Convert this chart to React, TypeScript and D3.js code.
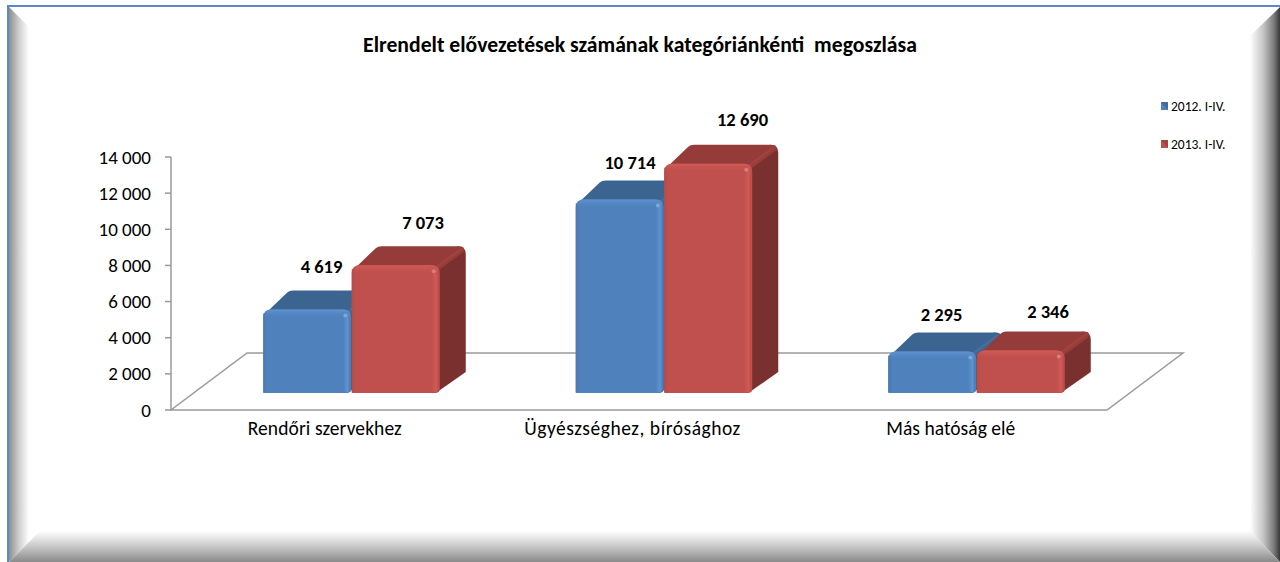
import React from "react";
import * as d3 from "d3";

const categories = ["Rendőri szervekhez", "Ügyészséghez, bírósághoz", "Más hatóság elé"];
const seriesNames = ["2012. I-IV.", "2013. I-IV."];
const values2012 = [4619, 10714, 2295];
const values2013 = [7073, 12690, 2346];
const tickValues = [0, 2000, 4000, 6000, 8000, 10000, 12000, 14000];
const title = "Elrendelt elővezetések számának kategóriánkénti  megoszlása";

// hand-placed label offsets seen in the picture (layout, not data)
const labelOffsets = [
  [[14, -37], [27, -36]],
  [[10, -30], [34, -38]],
  [[9, -31], [27, -33]],
];
const categoryLabelDx = [-27, -32, -26];
const categoryLabelWidths = [154, 216, 129];

const W = 1280, H = 562;
const FONT = "Carlito, Lato, 'Open Sans', sans-serif";
const fmt = d3.formatLocale({ decimal: ",", thousands: " ", grouping: [3], currency: ["", ""] }).format(",d");

const y = d3.scaleLinear().domain([0, 14000]).range([410, 157]);
const x0 = d3.scaleBand<string>().domain(categories).range([195.5, 1133]);
const x1 = d3.scaleBand<string>().domain(seriesNames).range([-88.5, 88.5]);
const BASE = 393;
const DX = 26, DY = -19;
const FLOOR = { x0: 171, x1: 1107, y0: 410, dx: 76, dy: -57 };

const palettes = [
  { id: "b", front: "#4f81bd", light: "#5f93d2", dark: "#4a79b0", top: "#3c6491", side: "#2f5177", ridge: "#4a76a8" },
  { id: "r", front: "#c0504d", light: "#d25a56", dark: "#b64b48", top: "#953c3a", side: "#7a302e", ridge: "#a84744" },
];

function Bar({ x, w, v, p }: { x: number; w: number; v: number; p: (typeof palettes)[number] }) {
  const topY = BASE - (y(0) - y(v));
  const r = 8;
  const side = `M${x + w - 4},${BASE}
    L${x + w + DX},${BASE + DY - 2}
    L${x + w + DX},${topY + DY + r}
    Q${x + w + DX},${topY + DY} ${x + w + DX - r},${topY + DY}
    L${x + w - 8},${topY} Z`;
  const top = `M${x + 1},${topY + 5}
    L${x + DX - 2},${topY + DY + 2}
    Q${x + DX},${topY + DY} ${x + DX + 4},${topY + DY}
    L${x + w + DX - r},${topY + DY}
    Q${x + w + DX},${topY + DY} ${x + w + DX - 3},${topY + DY + 3}
    L${x + w - 4},${topY + 4}
    L${x + w - 6},${topY + 2} L${x + 8},${topY + 2} Z`;
  return (
    <g>
      <path d={side} fill={p.side} />
      <path d={top} fill={p.top} />
      <path
        d={`M${x + w - 4},${topY + 4} L${x + w + DX - 4},${topY + DY + 4}`}
        stroke={p.ridge}
        strokeWidth={5}
        strokeLinecap="round"
        opacity={0.6}
      />
      <path
        d={`M${x},${BASE} L${x},${topY + r} Q${x},${topY} ${x + r},${topY} L${x + w - r},${topY} Q${x + w},${topY} ${x + w},${topY + r} L${x + w},${BASE - 4} Q${x + w},${BASE} ${x + w - 5},${BASE} Z`}
        fill={p.front}
      />
      <rect x={x} y={topY + 4} width={w - 1} height={BASE - topY - 5} fill={`url(#h${p.id})`} />
      <path
        d={`M${x + 1},${topY + 9} Q${x + 1},${topY} ${x + r},${topY} L${x + w - r},${topY} Q${x + w},${topY} ${x + w},${topY + 9} L${x + w - 6},${topY + 9} L${x + 6},${topY + 9} Z`}
        fill={`url(#v${p.id})`}
      />
      <circle cx={x + w - 6} cy={topY + 6} r={2} fill="#ffffff" opacity={0.25} />
    </g>
  );
}

export default function App() {
  const series = [values2012, values2013];
  const f = FLOOR;
  return (
    <svg
      width={W}
      height={H}
      viewBox={`0 0 ${W} ${H}`}
      style={{ position: "absolute", left: 0, top: 0, display: "block", background: "#fff" }}
      fontFamily={FONT}
    >
      <defs>
        <linearGradient id="bevL" x1="9" x2="29" y1="0" y2="0" gradientUnits="userSpaceOnUse">
          <stop offset="0" stopColor="#8e8e8e" />
          <stop offset="0.5" stopColor="#cfcfcf" />
          <stop offset="1" stopColor="#ffffff" />
        </linearGradient>
        <linearGradient id="bevR" x1="1250" x2="1280" y1="0" y2="0" gradientUnits="userSpaceOnUse">
          <stop offset="0" stopColor="#ffffff" />
          <stop offset="0.45" stopColor="#c4c4c4" />
          <stop offset="0.8" stopColor="#7a7a7a" />
          <stop offset="1" stopColor="#383838" />
        </linearGradient>
        <linearGradient id="bevB" x1="0" x2="0" y1="531" y2="562" gradientUnits="userSpaceOnUse">
          <stop offset="0" stopColor="#ffffff" />
          <stop offset="0.5" stopColor="#c8c8c8" />
          <stop offset="1" stopColor="#8a8a8a" />
        </linearGradient>
        {palettes.map((p) => (
          <React.Fragment key={p.id}>
            <linearGradient id={`h${p.id}`} x1="0" x2="1" y1="0" y2="0">
              <stop offset="0" stopColor={p.dark} />
              <stop offset="0.05" stopColor={p.front} />
              <stop offset="0.92" stopColor={p.front} />
              <stop offset="0.97" stopColor={p.light} />
              <stop offset="1" stopColor={p.dark} />
            </linearGradient>
            <linearGradient id={`v${p.id}`} x1="0" x2="0" y1="0" y2="1">
              <stop offset="0" stopColor={p.light} />
              <stop offset="1" stopColor={p.front} stopOpacity={0} />
            </linearGradient>
          </React.Fragment>
        ))}
      </defs>

      {/* frame */}
      <rect x={0} y={0} width={W} height={H} fill="#fff" />
      <polygon points={`9,7 29,27 29,531 40,531 9,562`} fill="url(#bevL)" />
      <polygon points={`1280,7 1250,36 1250,531 1280,562`} fill="url(#bevR)" />
      <polygon points={`9,562 40,531 1250,531 1280,562`} fill="url(#bevB)" />
      <rect x={7} y={5} width={1273} height={2} fill="#5b88c8" />
      <rect x={7} y={5} width={2} height={557} fill="#5b88c8" />

      {/* title */}
      <text x={640} y={52} textAnchor="middle" fontSize={21.7} fontWeight={700} fill="#000" xmlSpace="preserve">
        {title}
      </text>

      {/* floor and axis */}
      <polygon
        points={`${f.x0},${f.y0} ${f.x1},${f.y0} ${f.x1 + f.dx},${f.y0 + f.dy} ${f.x0 + f.dx},${f.y0 + f.dy}`}
        fill="none"
        stroke="#9a9a9a"
        strokeWidth={1.5}
      />
      <line x1={f.x0} x2={f.x0} y1={y(14000)} y2={y(0)} stroke="#9a9a9a" strokeWidth={1.5} />
      {tickValues.map((t) => (
        <g key={t}>
          <line x1={f.x0 - 6} x2={f.x0} y1={y(t)} y2={y(t)} stroke="#9a9a9a" strokeWidth={1.5} />
          <text x={151} y={y(t) + 6.5} textAnchor="end" fontSize={19} fill="#000">
            {fmt(t)}
          </text>
        </g>
      ))}

      {/* bars */}
      {categories.map((c, i) => {
        const cx = x0(c)! + x0.bandwidth() / 2;
        return (
          <g key={c}>
            {seriesNames.map((s, j) => (
              <Bar key={s} x={cx + x1(s)!} w={x1.bandwidth() - 0.5} v={series[j][i]} p={palettes[j]} />
            ))}
            <text
              x={cx + categoryLabelDx[i]}
              y={435}
              textAnchor="middle"
              fontSize={19.5}
              fill="#000"
              textLength={categoryLabelWidths[i]}
            >
              {c}
            </text>
          </g>
        );
      })}

      {/* data labels */}
      {categories.map((c, i) => {
        const cx = x0(c)! + x0.bandwidth() / 2;
        return seriesNames.map((s, j) => {
          const v = series[j][i];
          const barCx = cx + x1(s)! + x1.bandwidth() / 2;
          const topY = BASE - (y(0) - y(v));
          return (
            <text
              key={s}
              x={barCx + labelOffsets[i][j][0]}
              y={topY + labelOffsets[i][j][1]}
              textAnchor="middle"
              fontSize={18.5}
              fontWeight={700}
              fill="#000"
            >
              {fmt(v)}
            </text>
          );
        });
      })}

      {/* legend */}
      {seriesNames.map((s, j) => {
        const ly = 106 + j * 38;
        return (
          <g key={s}>
            <rect x={1161} y={ly - 4} width={7} height={8} fill={palettes[j].front} />
            <path d={`M1161,${ly - 4} L1168,${ly - 4} L1168,${ly + 4} Z`} fill={palettes[j].top} opacity={0.7} />
            <text x={1171} y={ly + 4.5} fontSize={13.5} fill="#000">
              {s}
            </text>
          </g>
        );
      })}
    </svg>
  );
}
